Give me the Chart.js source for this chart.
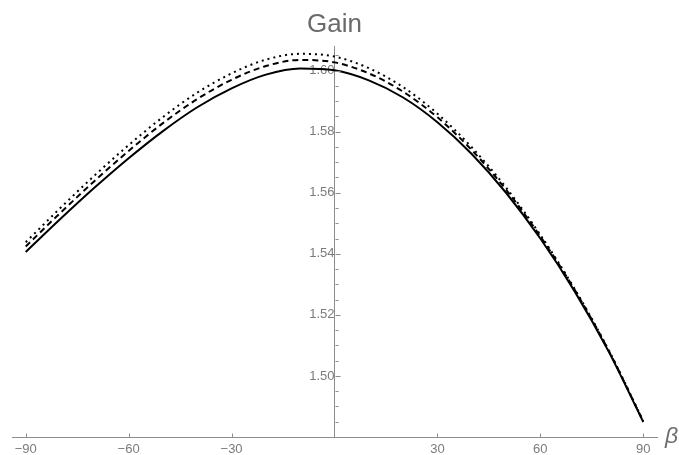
<!DOCTYPE html>
<html>
<head>
<meta charset="utf-8">
<script src="https://cdn.jsdelivr.net/npm/chart.js@4"></script>
<style>
  html, body { margin: 0; padding: 0; background: #fff; }
  #wrap { width: 679px; height: 455px; }
</style>
</head>
<body>
<div id="wrap"><canvas id="gain"></canvas></div>
<script>
const beta = [-90, -80, -70, -60, -50, -40, -30, -20, -10, 0, 10, 20, 30, 40, 50, 60, 70, 80, 90];
const gainSolid = [1.5406, 1.5513, 1.5616, 1.5713, 1.5802, 1.5880, 1.5942, 1.5987, 1.6007, 1.6001,
    1.5968, 1.5912, 1.5831, 1.5727, 1.5600, 1.5450, 1.5277, 1.5078, 1.4849];
const gainDashed = [1.5424, 1.5533, 1.5638, 1.5737, 1.5828, 1.5907, 1.5970, 1.6015, 1.6035, 1.6027,
    1.5991, 1.5931, 1.5847, 1.5740, 1.5610, 1.5457, 1.5282, 1.5081, 1.4851];
const gainDotted = [1.5438, 1.5549, 1.5656, 1.5756, 1.5848, 1.5928, 1.5991, 1.6036, 1.6055, 1.6046,
    1.6008, 1.5946, 1.5859, 1.5749, 1.5617, 1.5462, 1.5285, 1.5083, 1.4852];
const xTicks = [-90, -60, -30, 30, 60, 90];
const yTicks = [1.50, 1.52, 1.54, 1.56, 1.58, 1.60];
const yMinor = [1.485, 1.49, 1.495, 1.505, 1.51, 1.515, 1.525, 1.53, 1.535, 1.545, 1.55, 1.555,
    1.565, 1.57, 1.575, 1.585, 1.59, 1.595, 1.605];

const axisColor = "#8c8c8c";
const labelColor = "#7b7b7b";
const fontFamily = "'Liberation Sans', Arial, sans-serif";

function toPoints(ys) {
    return beta.map((b, i) => ({ x: b, y: ys[i] }));
}

// tick marks drawn inward like the original, plus the beta label
const axisMarks = {
    id: "axisMarks",
    afterDraw(chart) {
        const ctx = chart.ctx;
        const xs = chart.scales.x;
        const ys = chart.scales.y;
        const x0 = Math.round(xs.getPixelForValue(0)) + 0.5;
        const yb = Math.round(ys.getPixelForValue(1.48)) + 0.5;
        ctx.save();
        ctx.strokeStyle = axisColor;
        ctx.lineWidth = 1;
        ctx.beginPath();
        yTicks.forEach((v) => {
            const p = Math.round(ys.getPixelForValue(v)) + 0.5;
            ctx.moveTo(x0, p);
            ctx.lineTo(x0 + 5, p);
        });
        yMinor.forEach((v) => {
            const p = Math.round(ys.getPixelForValue(v)) + 0.5;
            ctx.moveTo(x0, p);
            ctx.lineTo(x0 + 3, p);
        });
        xTicks.forEach((v) => {
            const p = Math.round(xs.getPixelForValue(v)) + 0.5;
            ctx.moveTo(p, yb);
            ctx.lineTo(p, yb - 4);
        });
        ctx.stroke();
        ctx.fillStyle = "#6e6e6e";
        ctx.font = "italic 23px " + fontFamily;
        ctx.textAlign = "left";
        ctx.textBaseline = "alphabetic";
        ctx.fillText("β", chart.chartArea.right + 8, yb + 5);
        ctx.restore();
    },
};

new Chart(document.querySelector("#gain"), {
    type: "line",
    data: {
        datasets: [
            {
                label: "dotted",
                data: toPoints(gainDotted),
                borderColor: "#000",
                borderWidth: 2,
                borderDash: [2, 4],
                pointRadius: 0,
                cubicInterpolationMode: "monotone",
            },
            {
                label: "dashed",
                data: toPoints(gainDashed),
                borderColor: "#000",
                borderWidth: 2,
                borderDash: [6, 4],
                pointRadius: 0,
                cubicInterpolationMode: "monotone",
            },
            {
                label: "solid",
                data: toPoints(gainSolid),
                borderColor: "#000",
                borderWidth: 2,
                pointRadius: 0,
                cubicInterpolationMode: "monotone",
            },
        ],
    },
    options: {
        responsive: true,
        maintainAspectRatio: false,
        animation: false,
        layout: { padding: { left: 12, right: 22, top: 0, bottom: 0 } },
        plugins: {
            legend: { display: false },
            tooltip: { enabled: false },
            title: {
                display: true,
                text: "Gain",
                color: "#6a6a6a",
                font: { family: fontFamily, size: 26, weight: "normal" },
                padding: { top: 9, bottom: 6 },
            },
        },
        scales: {
            x: {
                type: "linear",
                position: "bottom",
                min: -94,
                max: 94,
                afterBuildTicks: (scale) => {
                    scale.ticks = xTicks.map((v) => ({ value: v }));
                },
                afterFit: (scale) => {
                    scale.height = 18;
                },
                ticks: {
                    autoSkip: false,
                    maxRotation: 0,
                    padding: 5,
                    color: labelColor,
                    font: { family: fontFamily, size: 13 },
                    callback: (v) => String(v).replace("-", "\u2212"),
                },
                grid: { display: false, drawTicks: false },
                border: { display: true, color: axisColor, width: 1 },
            },
            y: {
                type: "linear",
                position: { x: 0 },
                min: 1.48,
                max: 1.608,
                afterBuildTicks: (scale) => {
                    scale.ticks = yTicks.map((v) => ({ value: v }));
                },
                ticks: {
                    autoSkip: false,
                    padding: 4,
                    color: labelColor,
                    font: { family: fontFamily, size: 13 },
                    callback: (v) => v.toFixed(2),
                },
                grid: { display: false, drawTicks: false },
                border: { display: true, color: axisColor, width: 1 },
            },
        },
    },
    plugins: [axisMarks],
});
</script>
</body>
</html>
